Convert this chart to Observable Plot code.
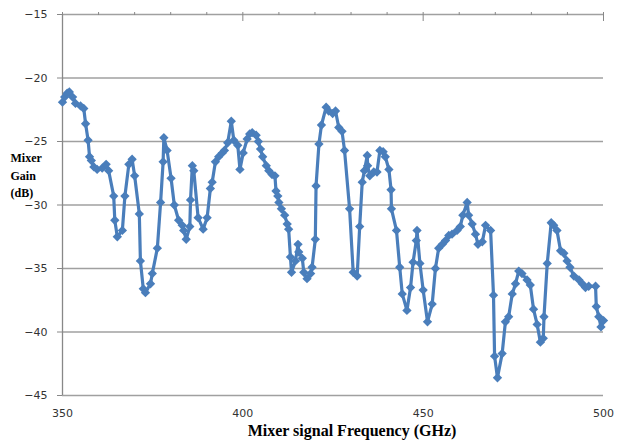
<!DOCTYPE html>
<html><head><meta charset="utf-8">
<script src="https://cdn.jsdelivr.net/npm/d3@7"></script>
<script src="https://cdn.jsdelivr.net/npm/@observablehq/plot@0.6"></script>
<style>body{margin:0;background:#fff}</style>
</head><body><div id="chart"></div>
<script>
const freq = [350,350.6,351.3,351.9,352.8,353.6,355,355.9,356.4,357.1,357.5,358,358.7,359.6,361,362.1,362.8,364.2,364.5,365.2,366.6,367.3,368.4,369.3,370,371.3,371.6,372.4,373,374.4,374.9,376.3,377.2,377.9,378.1,379,380.1,381,382.2,383.2,383.6,384.3,385.3,385.5,386,386.4,387.6,389,390.1,391,391.5,392.4,393.3,394.3,394.9,395.8,396.8,397.5,398.6,399.2,400.1,401.2,401.9,402.6,403.7,404.3,404.9,405.5,406.5,407.2,408.1,408.9,409.2,409.7,410,410.7,411.6,412.3,412.7,413.2,413.5,414.6,415.3,415.5,416.5,416.9,417.8,418.8,419.2,420.1,420.3,421.1,421.8,423.1,423.8,424.9,425.7,426.6,427.5,428.2,429.6,430.6,431.7,432.4,433.1,433.7,434.5,434.6,435.2,436.3,437.2,438,438.9,439.5,440.5,441.1,441.2,442.6,443.5,444.2,445.5,446.5,447.2,448.1,448.3,449.1,450,451.2,452.5,453.4,454.3,455.3,456.2,457.1,458,459.4,460.3,461,462.2,462.6,463.6,464.5,465.2,466.4,467.3,468.7,469.5,469.8,470.6,471.9,472.8,473.7,474.7,475.6,476.5,477.4,478.8,479.7,480.6,481.6,482.5,483.3,483.5,484.4,485.5,486.2,487.1,488.1,489,489.9,490.7,491.8,493.2,494.1,495,495.9,497.8,498,498.7,499.3,500];
const gain = [-21.9,-21.5,-21.2,-21.1,-21.5,-22.0,-22.2,-22.4,-23.6,-24.9,-26.2,-26.5,-27.0,-27.2,-27.1,-26.8,-27.3,-29.3,-31.2,-32.5,-32.0,-29.3,-26.8,-26.4,-27.7,-30.7,-34.4,-36.6,-36.9,-36.2,-35.4,-33.4,-29.8,-26.6,-24.7,-25.7,-27.9,-30.0,-31.2,-31.6,-32.0,-32.7,-31.7,-29.6,-26.9,-27.3,-31.0,-31.9,-31.0,-28.7,-28.2,-26.6,-26.2,-25.9,-25.7,-25.1,-23.4,-24.9,-25.3,-27.2,-25.9,-24.8,-24.4,-24.3,-24.5,-25.0,-25.6,-26.2,-26.9,-27.3,-27.6,-27.7,-28.9,-29.3,-29.8,-30.3,-30.8,-31.5,-31.9,-34.1,-35.3,-34.4,-33.1,-33.7,-34.2,-35.3,-35.8,-35.4,-34.9,-32.7,-28.5,-25.2,-23.7,-22.3,-22.6,-22.8,-22.6,-23.9,-24.2,-25.7,-30.3,-35.3,-35.6,-31.7,-28.2,-27.3,-26.1,-26.9,-27.7,-27.4,-27.4,-25.7,-25.8,-26.2,-27.2,-28.8,-30.3,-32.0,-34.9,-37.0,-38.3,-36.5,-34.5,-32.8,-32.0,-34.6,-36.7,-39.2,-37.8,-35.0,-33.4,-33.1,-32.8,-32.4,-32.3,-32.0,-31.7,-30.8,-29.8,-30.8,-31.5,-32.3,-33.1,-32.9,-31.6,-32.0,-37.1,-41.9,-43.6,-41.7,-39.2,-38.8,-37.0,-36.2,-35.2,-35.4,-35.9,-36.3,-38.2,-39.4,-40.8,-40.5,-38.8,-34.6,-31.4,-31.6,-32.0,-33.6,-33.8,-34.4,-34.9,-35.6,-35.9,-36.2,-36.5,-36.4,-36.4,-38.0,-38.8,-39.6,-39.1];
const yTicks = [-45,-40,-35,-30,-25,-20,-15];
const xTicks = [350,400,450,500];
const xMinor = [350,360,370,380,390,400,410,420,430,440,450,460,470,480,490,500];
const xMajor = [400,450,500];
const data = freq.map((f,i)=>({f, g: gain[i]}));
const color = "#4a7ebb";
const chart = Plot.plot({
  width:623, height:442, marginLeft:62, marginRight:20, marginTop:14, marginBottom:47,
  style:{fontFamily:"DejaVu Sans", fontSize:"11px", color:"#333", background:"#fff"},
  x:{domain:[350,500]}, y:{domain:[-45,-15]},
  marks:[
    Plot.ruleY(yTicks, {stroke:"#a0a0a0", strokeWidth:1.3}),
    Plot.ruleX([350], {stroke:"#888", strokeWidth:1.3}),
    Plot.axisY({ticks:yTicks, tickSize:5, tickPadding:10, label:null, stroke:"#888"}),
    Plot.axisX({ticks:xTicks, tickSize:0, tickPadding:14, label:null}),
    Plot.axisX({anchor:"top", ticks:xMinor, tickSize:3, tickFormat:()=>"", label:null, stroke:"#888"}),
    Plot.axisX({anchor:"top", ticks:xMajor, tickSize:-6, tickFormat:()=>"", label:null, stroke:"#888"}),
    Plot.line(data, {x:"f", y:"g", stroke:color, strokeWidth:3.2}),
    Plot.dot(data, {x:"f", y:"g", symbol:"diamond2", fill:color, r:4.2}),
    Plot.text(["Mixer\nGain\n(dB)"], {frameAnchor:"left", dx:-52, dy:-31, textAnchor:"start", fontFamily:"Liberation Serif", fontWeight:"bold", fontSize:12, lineHeight:1.45, fill:"#000"}),
    Plot.text(["Mixer signal Frequency (GHz)"], {frameAnchor:"bottom", dy:40, dx:19, fontFamily:"Liberation Serif", fontWeight:"bold", fontSize:16, fill:"#000"})
  ]
});
document.getElementById("chart").appendChild(chart);
</script>
</body></html>
